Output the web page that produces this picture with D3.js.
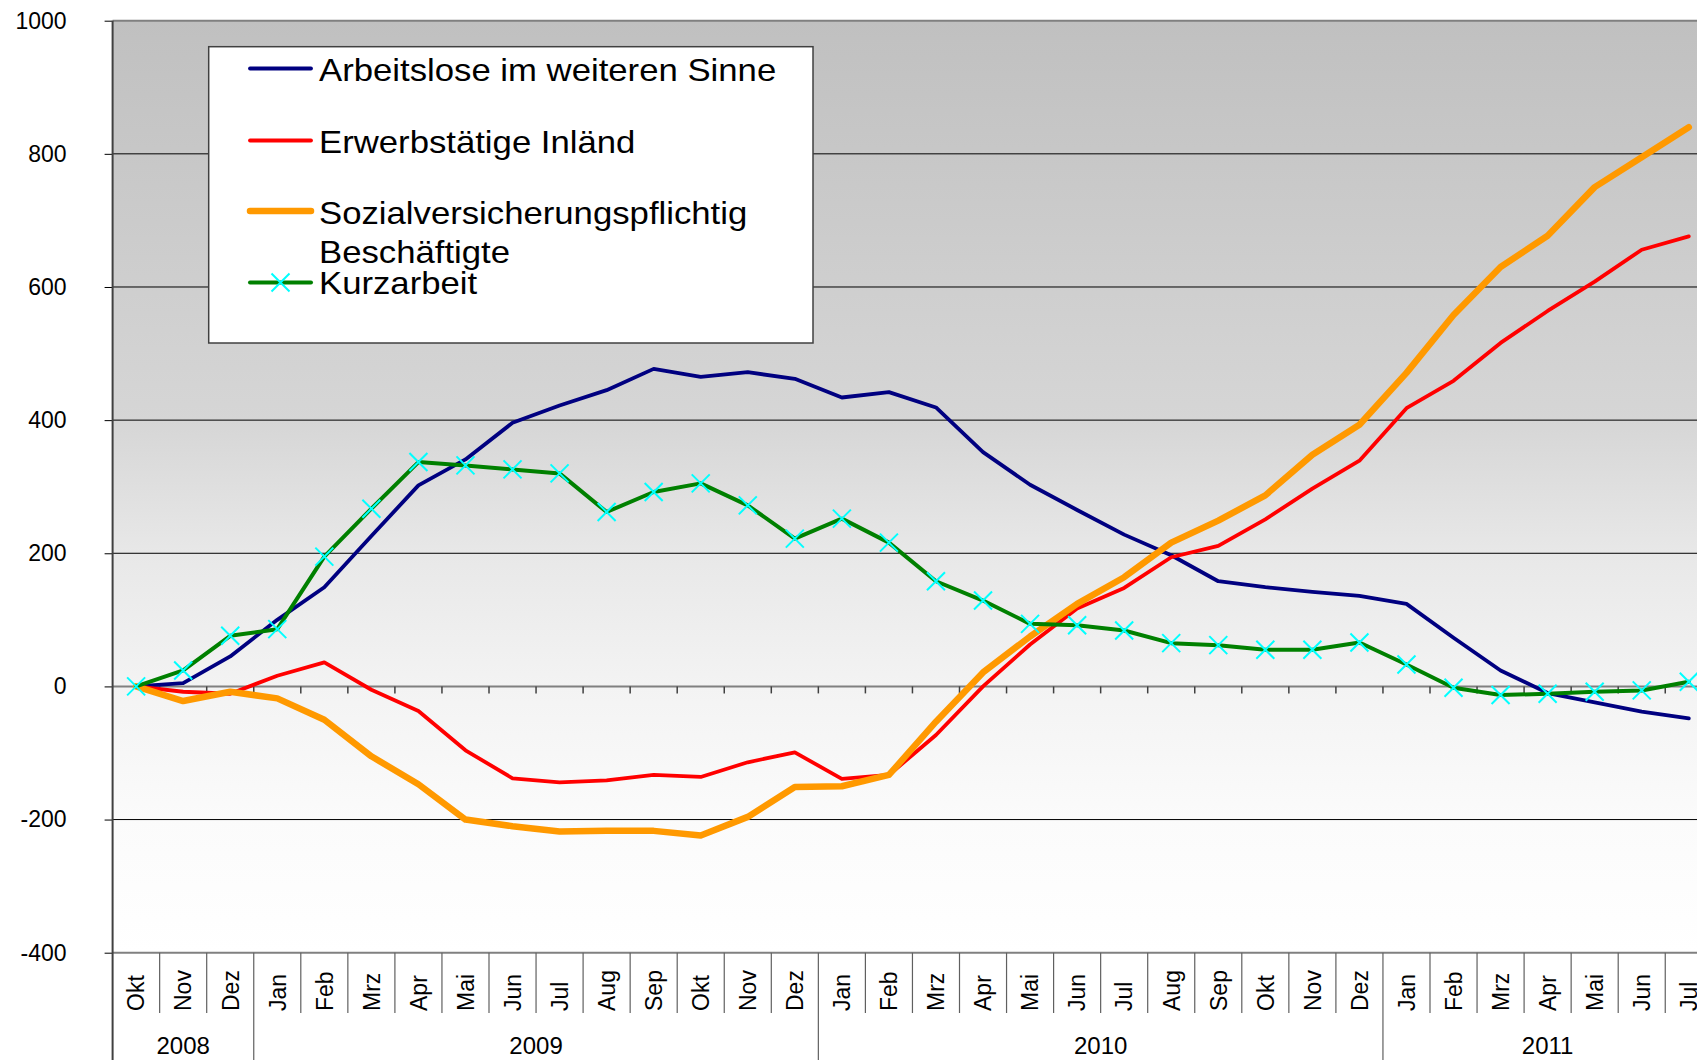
<!DOCTYPE html>
<html>
<head>
<meta charset="utf-8">
<script src="https://cdn.jsdelivr.net/npm/d3@7"></script>
<style>
  body { margin: 0; background: #fff; }
  svg text { font-family: Arial, "Liberation Sans", sans-serif; fill: #000; }
</style>
</head>
<body>
<div id="chart"></div>
<script>
// categories
var months = ["Okt","Nov","Dez","Jan","Feb","Mrz","Apr","Mai","Jun","Jul","Aug","Sep",
              "Okt","Nov","Dez","Jan","Feb","Mrz","Apr","Mai","Jun","Jul","Aug","Sep",
              "Okt","Nov","Dez","Jan","Feb","Mrz","Apr","Mai","Jun","Jul"];
var yearLabels = ["2008", "2009", "2010", "2011"];
var yearSpans = [3, 12, 12, 7];
var yTicks = [-400, -200, 0, 200, 400, 600, 800, 1000];

// series values
var arbeitslose = [0,5,45,100,149,226,302,341,396,422,445,477,465,472,462,434,442,419,352,303,265,228,197,158,149,142,136,124,73,24,-10,-24,-38,-48];
var erwerbstaetige = [0,-8,-11,16,36,-5,-37,-96,-138,-144,-141,-133,-136,-114,-99,-139,-133,-73,0,63,117,148,194,211,251,297,339,418,459,516,564,608,656,676];
var sozial = [0,-22,-8,-18,-50,-105,-147,-200,-210,-218,-217,-217,-224,-196,-151,-150,-133,-53,21,75,124,164,216,249,287,348,393,471,558,630,677,750,795,840];
var kurzarbeit = [0,24,76,86,195,267,337,332,326,320,262,292,305,272,222,252,216,158,129,94,92,84,65,62,55,55,66,33,-2,-13,-11,-8,-6,7];

var W = 1697, H = 1060;
var plotLeft = 112.6, plotTop = 20.7, plotBottom = 952.7, band = 47.05;

var svg = d3.select("#chart").append("svg")
  .attr("width", W).attr("height", H);

var x = d3.scaleBand()
  .domain(d3.range(months.length))
  .range([plotLeft, plotLeft + band * months.length])
  .padding(0);

var y = d3.scaleLinear().domain([-400, 1000]).range([plotBottom, plotTop]);

// background gradient, grey on top fading to white
var grad = svg.append("defs").append("linearGradient")
  .attr("id", "bg").attr("x1", 0).attr("y1", 0).attr("x2", 0).attr("y2", 1);
[[0, "#c0c0c0"], [0.43, "#d6d6d6"], [0.572, "#e8e8e8"], [0.714, "#f3f3f3"], [0.857, "#fbfbfb"], [1, "#ffffff"]]
  .forEach(function(s) {
    grad.append("stop").attr("offset", s[0]).attr("stop-color", s[1]);
  });

svg.append("rect")
  .attr("x", plotLeft).attr("y", plotTop)
  .attr("width", band * months.length).attr("height", plotBottom - plotTop)
  .style("fill", "url(#bg)");

// gridlines
svg.append("g").selectAll("line")
  .data(yTicks.filter(function(d) { return d !== 0 && d !== -400 && d !== 1000; }))
  .enter().append("line")
  .attr("x1", plotLeft).attr("x2", W)
  .attr("y1", function(d) { return y(d); }).attr("y2", function(d) { return y(d); })
  .style("stroke", "#000").style("stroke-width", 1);

// top and bottom border
[1000, -400].forEach(function(v) {
  svg.append("line")
    .attr("x1", plotLeft).attr("x2", W).attr("y1", y(v)).attr("y2", y(v))
    .style("stroke", "#808080").style("stroke-width", 2);
});

// y axis
var yAxis = svg.append("g")
  .attr("transform", "translate(" + plotLeft + ",0)")
  .call(d3.axisLeft(y).tickValues(yTicks).tickSize(8).tickPadding(38)
    .tickFormat(function(d) { return String(d); }));
yAxis.select(".domain").remove();
yAxis.selectAll(".tick line").style("stroke", "#000");
yAxis.selectAll(".tick text")
  .style("font-size", "23px")
  .style("font-family", "Arial, 'Liberation Sans', sans-serif");

// zero line with category ticks
svg.append("line")
  .attr("x1", plotLeft).attr("x2", W).attr("y1", y(0)).attr("y2", y(0))
  .style("stroke", "#808080").style("stroke-width", 2);
svg.append("g").selectAll("line")
  .data(d3.range(1, months.length + 1))
  .enter().append("line")
  .attr("x1", function(k) { return plotLeft + k * band; })
  .attr("x2", function(k) { return plotLeft + k * band; })
  .attr("y1", y(0)).attr("y2", y(0) + 7)
  .style("stroke", "#404040").style("stroke-width", 1.5);

// vertical axis line
svg.append("line")
  .attr("x1", plotLeft).attr("x2", plotLeft).attr("y1", plotTop).attr("y2", H)
  .style("stroke", "#404040").style("stroke-width", 2);

// category label separators
var yearStarts = [];
yearSpans.reduce(function(acc, n) { yearStarts.push(acc); return acc + n; }, 0);
svg.append("g").selectAll("line")
  .data(d3.range(1, months.length + 1))
  .enter().append("line")
  .attr("x1", function(k) { return plotLeft + k * band; })
  .attr("x2", function(k) { return plotLeft + k * band; })
  .attr("y1", plotBottom)
  .attr("y2", function(k) { return yearStarts.indexOf(k) >= 0 ? H : 1013; })
  .style("stroke", "#606060").style("stroke-width", 1.2);

// month labels
svg.append("g").selectAll("text")
  .data(months)
  .enter().append("text")
  .attr("transform", function(d, i) {
    return "translate(" + (x(i) + x.bandwidth() / 2) + ",1011) rotate(-90)";
  })
  .attr("dy", "0.36em")
  .style("font-size", "23px")
  .text(function(d) { return d; });

// year labels
svg.append("g").selectAll("text")
  .data(yearLabels)
  .enter().append("text")
  .attr("x", function(d, i) { return plotLeft + (yearStarts[i] + yearSpans[i] / 2) * band; })
  .attr("y", 1054)
  .attr("text-anchor", "middle")
  .style("font-size", "24px")
  .text(function(d) { return d; });

// lines
var line = d3.line()
  .x(function(d, i) { return x(i) + x.bandwidth() / 2; })
  .y(function(d) { return y(d); });

var styles = [
  { data: arbeitslose, color: "#000080", width: 3.8 },
  { data: erwerbstaetige, color: "#ff0000", width: 3.8 },
  { data: sozial, color: "#ff9900", width: 6.5 },
  { data: kurzarbeit, color: "#008000", width: 4 }
];

styles.forEach(function(s) {
  svg.append("path")
    .datum(s.data)
    .attr("d", line)
    .style("fill", "none")
    .style("stroke", s.color)
    .style("stroke-width", s.width)
    .style("stroke-linejoin", "round")
    .style("stroke-linecap", "round");
});

var cross = "M-9,-9L9,9M-9,9L9,-9";
svg.append("g").selectAll("path")
  .data(kurzarbeit)
  .enter().append("path")
  .attr("transform", function(d, i) {
    return "translate(" + (x(i) + x.bandwidth() / 2) + "," + y(d) + ")";
  })
  .attr("d", cross)
  .style("stroke", "#00ffff")
  .style("stroke-width", 2);

// legend
var lg = svg.append("g");
lg.append("rect")
  .attr("x", 208.7).attr("y", 46.7).attr("width", 604.3).attr("height", 296.3)
  .style("fill", "#fff").style("stroke", "#404040").style("stroke-width", 1.5);

var legendLineY = [68.5, 140.5, 211, 282.5];
var legendText = [
  [{ t: "Arbeitslose im weiteren Sinne", y: 81 }],
  [{ t: "Erwerbstätige Inländ", y: 152.5 }],
  [{ t: "Sozialversicherungspflichtig", y: 223.5 }, { t: "Beschäftigte", y: 262.5 }],
  [{ t: "Kurzarbeit", y: 293.5 }]
];

styles.forEach(function(s, i) {
  lg.append("line")
    .attr("x1", 250).attr("x2", 311)
    .attr("y1", legendLineY[i]).attr("y2", legendLineY[i])
    .style("stroke", s.color)
    .style("stroke-width", s.width)
    .style("stroke-linecap", "round");
  legendText[i].forEach(function(t) {
    lg.append("text")
      .attr("transform", "translate(319," + t.y + ") scale(1.085,1)")
      .style("font-size", "32px")
      .text(t.t);
  });
});

lg.append("path")
  .attr("transform", "translate(280.5," + legendLineY[3] + ")")
  .attr("d", cross)
  .style("stroke", "#00ffff")
  .style("stroke-width", 2);
</script>
</body>
</html>
